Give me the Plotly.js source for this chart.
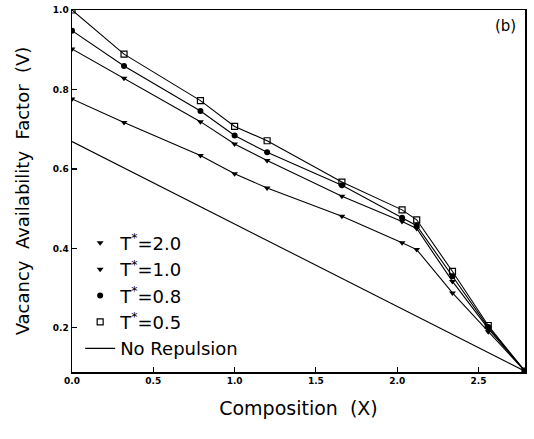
<!DOCTYPE html>
<html><head><meta charset="utf-8">
<script src="https://cdn.plot.ly/plotly-3.0.1.min.js"></script>
<style>html,body{margin:0;padding:0;background:#fff}</style>
</head><body><div id="chart" style="width:534px;height:439px"></div>
<script>
const composition = [0.0, 0.32, 0.79, 1.0, 1.2, 1.66, 2.03, 2.12, 2.34, 2.56, 2.786];
const vT05 = [1.0, 0.889, 0.772, 0.707, 0.671, 0.567, 0.497, 0.472, 0.342, 0.206, 0.091];
const vT08 = [0.948, 0.859, 0.746, 0.684, 0.642, 0.559, 0.477, 0.457, 0.330, 0.202, 0.091];
const vT10 = [0.902, 0.828, 0.719, 0.663, 0.621, 0.531, 0.468, 0.450, 0.317, 0.198, 0.091];
const vT20 = [0.776, 0.717, 0.634, 0.588, 0.552, 0.481, 0.414, 0.397, 0.288, 0.190, 0.091];
const noRepX = [0.0, 2.786];
const noRepV = [0.669, 0.091];
const seriesNames = ['T<sup>*</sup>=2.0', 'T<sup>*</sup>=1.0', 'T<sup>*</sup>=0.8', 'T<sup>*</sup>=0.5'];
const xTicks = [0.0, 0.5, 1.0, 1.5, 2.0, 2.5];
const yTicks = [0.2, 0.4, 0.6, 0.8, 1.0];

const lineStyle = {color: '#000', width: 1.1};
const seriesV = [vT20, vT10, vT08, vT05];
const markers = [
  {symbol: 'triangle-down', size: 6, color: '#000'},
  {symbol: 'triangle-down', size: 6, color: '#000'},
  {symbol: 'circle', size: 6, color: '#000'},
  {symbol: 'square-open', size: 6, color: '#000', line: {width: 1.2, color: '#000'}}
];
const traces = [];
seriesV.forEach((v, i) => {
  traces.push({x: composition, y: v, mode: 'lines', line: lineStyle, showlegend: false, hoverinfo: 'skip'});
});
seriesV.forEach((v, i) => {
  traces.push({x: composition, y: v, name: seriesNames[i], mode: 'markers', marker: markers[i]});
});
traces.push({x: noRepX, y: noRepV, name: 'No Repulsion', mode: 'lines', line: lineStyle});

const layout = {
  width: 534, height: 439,
  margin: {l: 72, r: 9, t: 10, b: 67},
  paper_bgcolor: '#fff', plot_bgcolor: '#fff',
  font: {family: 'DejaVu Sans, sans-serif', color: '#000'},
  showlegend: true,
  legend: {x: 0.018, y: 0.015, xanchor: 'left', yanchor: 'bottom', bgcolor: 'rgba(0,0,0,0)',
           font: {size: 18, family: 'DejaVu Sans, sans-serif'}, tracegroupgap: 0, itemwidth: 30},
  xaxis: {range: [0, 2.786], tickvals: xTicks, ticktext: xTicks.map(v => v.toFixed(1)),
          ticks: 'inside', ticklen: 5, tickwidth: 1.2, tickcolor: '#000',
          showline: true, linecolor: '#000', linewidth: 1.5, mirror: true, showgrid: false, zeroline: false,
          tickfont: {size: 9, family: 'DejaVu Sans, sans-serif', weight: 'bold'},
          title: {text: 'Composition  (X)', font: {size: 19}, standoff: 16}},
  yaxis: {range: [0.089, 1.0], tickvals: yTicks, ticktext: yTicks.map(v => v.toFixed(1)),
          ticks: 'inside', ticklen: 5, tickwidth: 1.2, tickcolor: '#000',
          showline: true, linecolor: '#000', linewidth: 1.5, mirror: true, showgrid: false, zeroline: false,
          tickfont: {size: 9, family: 'DejaVu Sans, sans-serif', weight: 'bold'},
          title: {text: 'Vacancy  Availability  Factor  (V)', font: {size: 18}, standoff: 18}},
  annotations: [{xref: 'paper', yref: 'paper', x: 0.985, y: 0.985, xanchor: 'right', yanchor: 'top',
                 text: '(b)', showarrow: false, font: {size: 15}}]
};
Plotly.newPlot('chart', traces, layout, {displayModeBar: false, staticPlot: true});
</script></body></html>
